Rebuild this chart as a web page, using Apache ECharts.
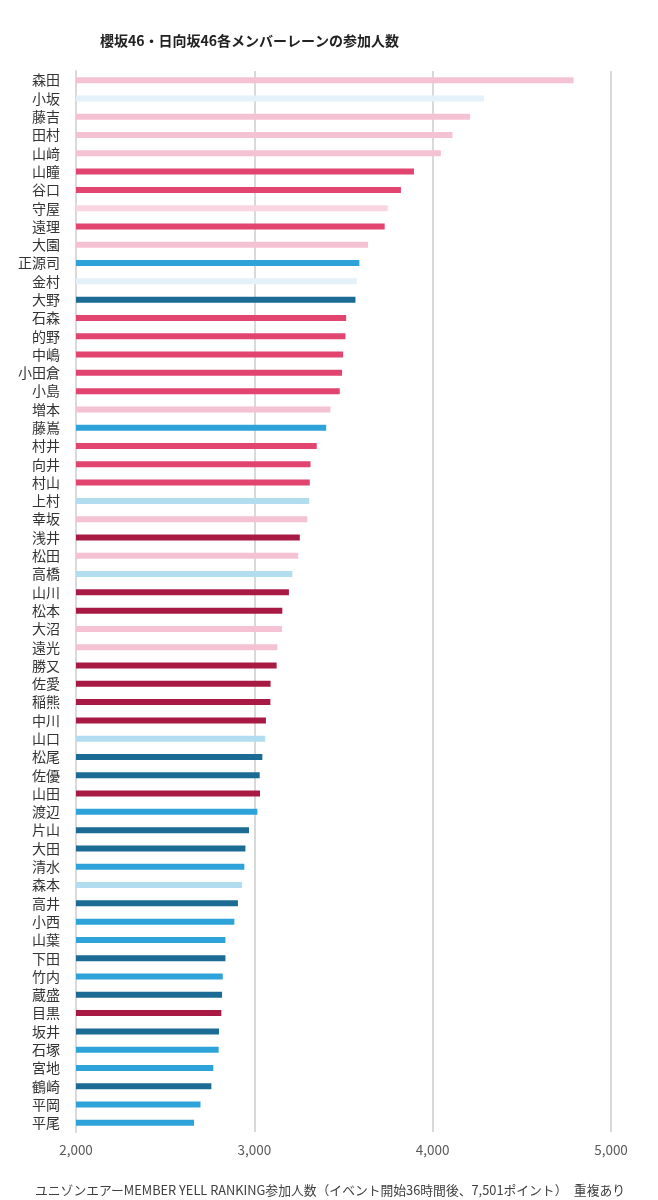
<!DOCTYPE html>
<html>
<head>
<meta charset="utf-8">
<script src="https://cdn.jsdelivr.net/npm/echarts@6/dist/echarts.min.js"></script>
<style>
html,body{margin:0;padding:0;background:#fff;}
#chart{width:658px;height:1200px;}
</style>
</head>
<body>
<div id="chart"></div>
<script>
const names = ["森田","小坂","藤吉","田村","山﨑","山瞳","谷口","守屋","遠理","大園","正源司","金村","大野","石森","的野","中嶋","小田倉","小島","増本","藤嶌","村井","向井","村山","上村","幸坂","浅井","松田","高橋","山川","松本","大沼","遠光","勝又","佐愛","稲熊","中川","山口","松尾","佐優","山田","渡辺","片山","大田","清水","森本","高井","小西","山葉","下田","竹内","蔵盛","目黒","坂井","石塚","宮地","鶴崎","平岡","平尾"];
const values = [4790,4287,4210,4111,4046,3895,3822,3748,3731,3638,3589,3574,3567,3515,3511,3498,3492,3479,3427,3403,3350,3315,3311,3308,3297,3255,3246,3213,3194,3157,3155,3129,3125,3091,3090,3065,3061,3045,3030,3032,3017,2970,2950,2944,2931,2908,2888,2838,2838,2823,2819,2815,2802,2800,2770,2759,2698,2662];
const groups = ["A","B","A","A","A","C","C","A2","C","A","D","B","E","C","C","C","C","C","A","D","C","C","C","G","A","F","A","G","F","F","A","A","F","F","F","F","G","E","E","F","D","E","E","D","G","E","D","D","E","D","E","F","E","D","D","E","D","D"];
const xTicks = [2000,3000,4000,5000];
const titleText = "櫻坂46・日向坂46各メンバーレーンの参加人数";
const footerText = "ユニゾンエアーMEMBER YELL RANKING参加人数（イベント開始36時間後、7,501ポイント）　重複あり";

const palette = {A:"#f4c2d2",A2:"#f8d5e0",B:"#e4f1f8",C:"#e0446f",D:"#2ea3da",E:"#1c6b94",F:"#a81a44",G:"#b2dcf0"};

const chart = echarts.init(document.getElementById('chart'), null, {renderer:'canvas'});
const font = '"Noto Sans CJK JP","Noto Sans",sans-serif';
chart.setOption({
  backgroundColor:'#ffffff',
  animation:false,
  title:[
    {text:titleText,left:95,top:29,textStyle:{fontFamily:font,fontSize:14,fontWeight:'bold',color:'#222'}},
    {text:footerText,left:30,top:1179,textStyle:{fontFamily:font,fontSize:12.8,fontWeight:'normal',color:'#404040'}}
  ],
  grid:{left:76,right:47,top:71,bottom:68,containLabel:false},
  xAxis:{
    type:'value',min:xTicks[0],max:xTicks[xTicks.length-1],interval:1000,
    axisLine:{show:false},axisTick:{show:false},
    splitLine:{show:true,lineStyle:{color:'#d9d9d9',width:2}},
    axisLabel:{margin:11,fontFamily:font,fontSize:13.5,color:'#595959',
      formatter:v=>v.toLocaleString('en-US')}
  },
  yAxis:{
    type:'category',data:names,inverse:true,
    axisLine:{show:true,lineStyle:{color:'#d9d9d9',width:2}},
    axisTick:{show:false},
    axisLabel:{margin:16,fontFamily:font,fontSize:14,color:'#333333',interval:0}
  },
  series:[{
    type:'bar',barWidth:6,
    data:values.map((v,i)=>({value:v,itemStyle:{color:palette[groups[i]]}}))
  }]
});
</script>
</body>
</html>
